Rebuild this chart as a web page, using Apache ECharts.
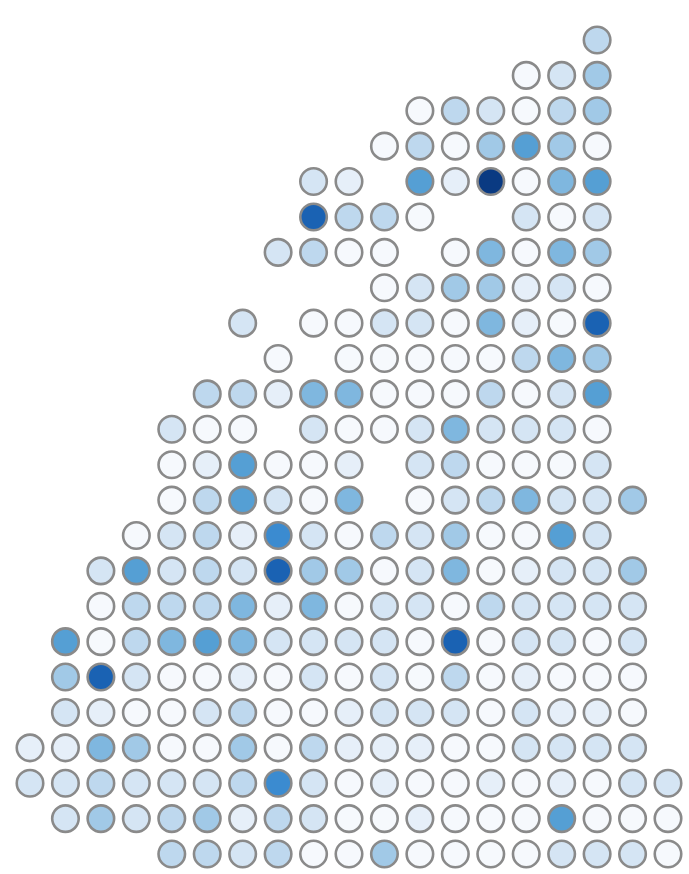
<!DOCTYPE html>
<html>
<head>
<meta charset="utf-8">
<style>
  html, body { margin: 0; padding: 0; background: #ffffff; }
  #chart { width: 689px; height: 874px; }
</style>
<script src="https://cdn.jsdelivr.net/npm/echarts@6/dist/echarts.min.js"></script>
</head>
<body>
<div id="chart"></div>
<script>
// Column and row indices of the dot grid
const columns = [0, 1, 2, 3, 4, 5, 6, 7, 8, 9, 10, 11, 12, 13, 14, 15, 16, 17, 18];

// Shade level per cell (0 = palest, 9 = darkest); null = no dot
const _ = null;
const r00 = [_, _, _, _, _, _, _, _, _, _, _, _, _, _, _, _, 3, _, _];
const r01 = [_, _, _, _, _, _, _, _, _, _, _, _, _, _, 0, 2, 4, _, _];
const r02 = [_, _, _, _, _, _, _, _, _, _, _, 0, 3, 2, 0, 3, 4, _, _];
const r03 = [_, _, _, _, _, _, _, _, _, _, 0, 3, 0, 4, 6, 4, 0, _, _];
const r04 = [_, _, _, _, _, _, _, _, 2, 1, _, 6, 1, 9, 0, 5, 6, _, _];
const r05 = [_, _, _, _, _, _, _, _, 8, 3, 3, 0, _, _, 2, 0, 2, _, _];
const r06 = [_, _, _, _, _, _, _, 2, 3, 0, 0, _, 0, 5, 0, 5, 4, _, _];
const r07 = [_, _, _, _, _, _, _, _, _, _, 0, 2, 4, 4, 1, 2, 0, _, _];
const r08 = [_, _, _, _, _, _, 2, _, 0, 0, 2, 2, 0, 5, 1, 0, 8, _, _];
const r09 = [_, _, _, _, _, _, _, 0, _, 0, 0, 0, 0, 0, 3, 5, 4, _, _];
const r10 = [_, _, _, _, _, 3, 3, 1, 5, 5, 0, 0, 0, 3, 0, 2, 6, _, _];
const r11 = [_, _, _, _, 2, 0, 0, _, 2, 0, 0, 2, 5, 2, 2, 2, 0, _, _];
const r12 = [_, _, _, _, 0, 1, 6, 0, 0, 1, _, 2, 3, 0, 0, 0, 2, _, _];
const r13 = [_, _, _, _, 0, 3, 6, 2, 0, 5, _, 0, 2, 3, 5, 2, 2, 4, _];
const r14 = [_, _, _, 0, 2, 3, 1, 7, 2, 0, 3, 2, 4, 0, 0, 6, 2, _, _];
const r15 = [_, _, 2, 6, 2, 3, 2, 8, 4, 4, 0, 2, 5, 0, 1, 2, 2, 4, _];
const r16 = [_, _, 0, 3, 3, 3, 5, 1, 5, 0, 2, 2, 0, 3, 2, 2, 2, 2, _];
const r17 = [_, 6, 0, 3, 5, 6, 5, 2, 2, 2, 2, 0, 8, 0, 2, 2, 0, 2, _];
const r18 = [_, 4, 8, 2, 0, 0, 1, 0, 2, 0, 2, 0, 3, 0, 1, 0, 0, 0, _];
const r19 = [_, 2, 1, 0, 0, 2, 3, 0, 0, 1, 2, 2, 2, 0, 2, 1, 1, 0, _];
const r20 = [1, 1, 5, 4, 0, 0, 4, 0, 3, 1, 1, 1, 0, 0, 2, 2, 2, 2, _];
const r21 = [2, 2, 3, 2, 2, 2, 3, 7, 2, 0, 1, 0, 0, 1, 0, 1, 0, 2, 2];
const r22 = [_, 2, 4, 2, 3, 4, 1, 3, 2, 0, 0, 1, 0, 0, 0, 6, 0, 0, 0];
const r23 = [_, _, _, _, 3, 3, 2, 3, 0, 0, 4, 0, 0, 0, 0, 2, 2, 2, 0];

const gridRows = [r00, r01, r02, r03, r04, r05, r06, r07, r08, r09, r10, r11,
                  r12, r13, r14, r15, r16, r17, r18, r19, r20, r21, r22, r23];

// Blues ramp, one stop per shade level
const shadeColors = ['#f6f9fd', '#e6eff9', '#d5e5f4', '#bed8ee', '#a1c9e7',
                     '#7fb7df', '#559fd4', '#3b8bd0', '#1a62b3', '#0a3a82'];

const points = [];
gridRows.forEach(function (row, r) {
  row.forEach(function (v, c) {
    if (v !== null) points.push([columns[c], r, v]);
  });
});

const chart = echarts.init(document.getElementById('chart'), null, { renderer: 'canvas' });
chart.setOption({
  animation: false,
  backgroundColor: '#ffffff',
  grid: { left: 30, right: 21, top: 40, bottom: 20 },
  xAxis: {
    type: 'value', min: 0, max: 18,
    show: false
  },
  yAxis: {
    type: 'value', min: 0, max: 23, inverse: true,
    show: false
  },
  visualMap: {
    type: 'continuous',
    show: false,
    min: 0, max: 9,
    dimension: 2,
    inRange: { color: shadeColors }
  },
  series: [{
    type: 'scatter',
    data: points,
    symbol: 'circle',
    symbolSize: 26.5,
    itemStyle: {
      borderColor: '#8a8a8a',
      borderWidth: 2.6,
      opacity: 1
    },
    emphasis: { disabled: true }
  }]
});
</script>
</body>
</html>
